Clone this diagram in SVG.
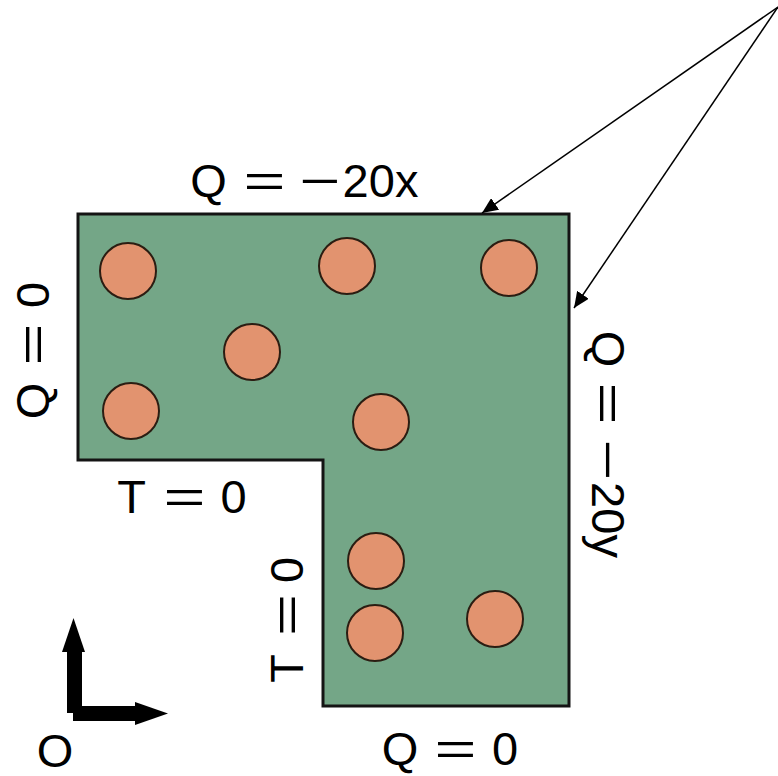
<svg xmlns="http://www.w3.org/2000/svg" width="778" height="776" viewBox="0 0 778 776">
  <style>
    .lbl { font-family: "Liberation Sans", Arial, sans-serif; font-size: 47px; fill: #000; text-anchor: middle; }
    .hole { fill: #e2936f; stroke: #2b1d12; stroke-width: 2; }
    .plate { fill: #74a687; stroke: #141414; stroke-width: 3; }
    .conn { stroke: #000; stroke-width: 1.5; fill: none; marker-end: url(#ah); }
  </style>
  <defs>
    <marker id="ah" markerUnits="userSpaceOnUse" markerWidth="18" markerHeight="14" refX="16" refY="7" orient="auto">
      <path d="M0,0 L16,7 L0,14 Z" fill="#000"/>
    </marker>
  </defs>
  <rect width="778" height="776" fill="#fff"/>

  <g id="plate">
    <path class="plate" d="M78,214 H569 V706 H323 V460 H78 Z"/>
  </g>

  <g id="holes">
    <circle class="hole" cx="128" cy="271" r="28"/>
    <circle class="hole" cx="347" cy="266" r="28"/>
    <circle class="hole" cx="509" cy="268" r="28"/>
    <circle class="hole" cx="252" cy="352" r="28"/>
    <circle class="hole" cx="131" cy="411" r="28"/>
    <circle class="hole" cx="381" cy="422" r="28"/>
    <circle class="hole" cx="376" cy="561" r="28"/>
    <circle class="hole" cx="375" cy="633" r="28"/>
    <circle class="hole" cx="495" cy="619" r="28"/>
  </g>

  <g id="connectors">
    <line class="conn" x1="778" y1="7" x2="482" y2="213"/>
    <line class="conn" x1="778" y1="7" x2="574" y2="308"/>
  </g>

  <g id="label-top">
    <text class="lbl" y="197"><tspan x="208.5">Q</tspan><tspan x="264.5" textLength="42" lengthAdjust="spacingAndGlyphs">=</tspan><tspan x="320" textLength="41" lengthAdjust="spacingAndGlyphs">−</tspan><tspan x="380.5">20x</tspan></text>
  </g>
  <g id="label-left">
    <text class="lbl" transform="rotate(-90)" y="49"><tspan x="-401">Q</tspan><tspan x="-344.5" textLength="42" lengthAdjust="spacingAndGlyphs">=</tspan><tspan x="-295">0</tspan></text>
  </g>
  <g id="label-right">
    <text class="lbl" transform="rotate(90)" y="-592"><tspan x="349">Q</tspan><tspan x="403.5" textLength="42" lengthAdjust="spacingAndGlyphs">=</tspan><tspan x="460" textLength="41" lengthAdjust="spacingAndGlyphs">−</tspan><tspan x="520">20y</tspan></text>
  </g>
  <g id="label-step-h">
    <text class="lbl" y="513"><tspan x="131.5">T</tspan><tspan x="184.5" textLength="42" lengthAdjust="spacingAndGlyphs">=</tspan><tspan x="233.5">0</tspan></text>
  </g>
  <g id="label-step-v">
    <text class="lbl" transform="rotate(-90)" y="303"><tspan x="-668.5">T</tspan><tspan x="-615" textLength="42" lengthAdjust="spacingAndGlyphs">=</tspan><tspan x="-570">0</tspan></text>
  </g>
  <g id="label-bottom">
    <text class="lbl" y="765"><tspan x="400">Q</tspan><tspan x="455.5" textLength="42" lengthAdjust="spacingAndGlyphs">=</tspan><tspan x="505">0</tspan></text>
  </g>

  <g id="axes">
    <rect x="67" y="650" width="15" height="63" fill="#000"/>
    <polygon points="62,652 85,652 73.5,618" fill="#000"/>
    <rect x="73" y="706" width="64" height="15" fill="#000"/>
    <polygon points="135,702 135,725 168,713.5" fill="#000"/>
    <text class="lbl" x="55" y="767">O</text>
  </g>
</svg>
